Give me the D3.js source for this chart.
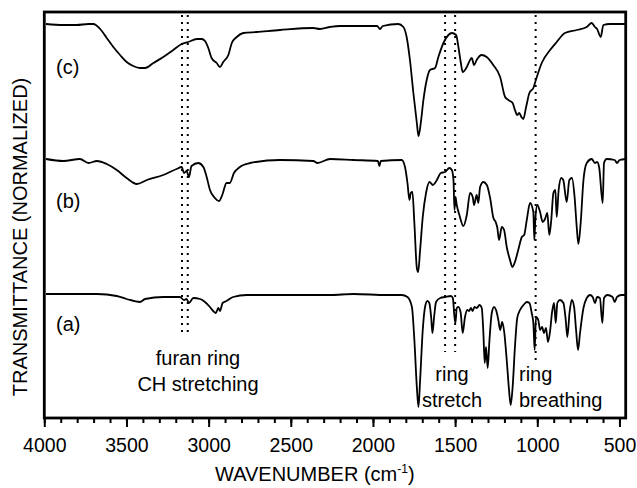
<!DOCTYPE html>
<html>
<head>
<meta charset="utf-8">
<script src="https://cdn.jsdelivr.net/npm/d3@7"></script>
<style>
  body { margin: 0; background: #fff; }
  text { font-family: "Liberation Sans", Arial, sans-serif; fill: #000; }
</style>
</head>
<body>
<div id="chart"></div>
<script>
// spectra: [wavenumber, transmittance (stacked, arbitrary units)]
var spectrumC = [[3990,3.94],[3885,3.93],[3803,3.93],[3731,3.94],[3701,3.94],[3660,3.89],[3620,3.80],[3580,3.71],[3539,3.63],[3499,3.56],[3459,3.52],[3418,3.50],[3387,3.50],[3336,3.55],[3276,3.61],[3215,3.68],[3164,3.74],[3124,3.76],[3072,3.79],[3042,3.79],[3022,3.77],[3002,3.70],[2982,3.60],[2951,3.55],[2931,3.51],[2911,3.56],[2880,3.63],[2859,3.75],[2829,3.81],[2789,3.85],[2708,3.86],[2566,3.88],[2363,3.90],[2323,3.89],[2261,3.91],[2200,3.92],[1975,3.92],[1957,3.89],[1940,3.92],[1846,3.94],[1815,3.91],[1795,3.81],[1775,3.58],[1754,3.25],[1733,2.95],[1723,2.82],[1709,2.95],[1693,3.18],[1673,3.38],[1653,3.48],[1622,3.50],[1602,3.61],[1571,3.75],[1541,3.83],[1520,3.85],[1494,3.83],[1480,3.71],[1466,3.56],[1454,3.46],[1429,3.51],[1409,3.58],[1399,3.60],[1385,3.53],[1369,3.58],[1339,3.63],[1308,3.61],[1268,3.53],[1226,3.41],[1196,3.21],[1176,3.18],[1150,3.15],[1136,3.08],[1122,3.03],[1110,3.05],[1097,3.01],[1085,2.99],[1068,3.11],[1048,3.25],[1024,3.30],[1003,3.41],[973,3.55],[922,3.68],[882,3.76],[832,3.85],[760,3.88],[699,3.91],[669,3.95],[649,3.91],[636,3.89],[614,3.81],[598,3.93],[558,3.94],[462,3.94]];

var spectrumB = [[3990,2.59],[3884,2.57],[3783,2.59],[3731,2.55],[3680,2.57],[3620,2.54],[3559,2.48],[3499,2.40],[3437,2.34],[3376,2.38],[3276,2.43],[3195,2.49],[3164,2.51],[3150,2.45],[3134,2.47],[3120,2.41],[3104,2.52],[3063,2.55],[3032,2.51],[3012,2.41],[2992,2.28],[2962,2.20],[2937,2.17],[2917,2.23],[2891,2.35],[2871,2.35],[2846,2.45],[2810,2.51],[2748,2.55],[2566,2.58],[2363,2.57],[2338,2.55],[2261,2.59],[2118,2.58],[1970,2.57],[1961,2.52],[1952,2.57],[1825,2.58],[1805,2.51],[1790,2.35],[1778,2.18],[1770,2.25],[1760,2.26],[1748,1.95],[1733,1.50],[1725,1.46],[1713,1.68],[1697,2.01],[1677,2.25],[1656,2.36],[1635,2.33],[1611,2.38],[1587,2.45],[1561,2.46],[1535,2.50],[1520,2.48],[1510,2.38],[1504,2.08],[1498,2.21],[1490,2.13],[1474,2.03],[1450,1.92],[1429,2.03],[1409,2.25],[1393,2.21],[1385,2.13],[1369,2.23],[1359,2.15],[1348,2.31],[1328,2.36],[1307,2.33],[1287,2.20],[1267,2.00],[1253,1.96],[1243,1.90],[1233,1.78],[1216,1.91],[1202,1.88],[1186,1.71],[1166,1.58],[1152,1.51],[1136,1.56],[1116,1.68],[1094,1.81],[1080,1.83],[1064,1.98],[1044,2.15],[1024,2.06],[1018,1.78],[1012,1.98],[1000,2.13],[983,2.06],[967,1.96],[953,1.99],[939,2.05],[927,1.83],[915,1.98],[902,2.25],[890,2.28],[882,2.01],[870,2.28],[854,2.40],[842,2.38],[821,2.16],[805,2.38],[789,2.40],[773,2.21],[760,1.91],[750,1.74],[736,1.95],[719,2.38],[699,2.55],[669,2.59],[649,2.55],[636,2.56],[623,2.50],[602,2.15],[594,2.55],[578,2.59],[529,2.58],[515,2.55],[499,2.58],[462,2.59]];

var spectrumA = [[3990,1.24],[3680,1.24],[3559,1.22],[3499,1.19],[3418,1.16],[3387,1.19],[3276,1.21],[3175,1.21],[3150,1.18],[3134,1.19],[3120,1.15],[3093,1.20],[3052,1.19],[3022,1.16],[2992,1.11],[2972,1.07],[2956,1.05],[2941,1.10],[2931,1.07],[2915,1.15],[2891,1.17],[2851,1.21],[2768,1.23],[2464,1.23],[2261,1.23],[2118,1.24],[1916,1.23],[1825,1.23],[1790,1.21],[1763,1.11],[1748,0.78],[1733,0.31],[1723,0.11],[1713,0.38],[1697,0.88],[1683,1.11],[1669,1.17],[1657,1.15],[1646,1.01],[1638,0.85],[1628,1.01],[1616,1.16],[1591,1.20],[1561,1.21],[1526,1.22],[1514,1.20],[1504,1.01],[1498,0.95],[1490,1.10],[1480,1.11],[1466,1.05],[1454,0.85],[1440,1.01],[1426,1.08],[1414,1.07],[1404,1.10],[1394,1.07],[1382,1.11],[1368,1.10],[1352,1.13],[1338,1.10],[1328,0.85],[1320,0.55],[1312,0.71],[1302,0.50],[1291,0.78],[1277,1.05],[1263,1.11],[1251,1.08],[1237,0.98],[1226,0.88],[1214,0.96],[1202,0.87],[1186,0.58],[1172,0.28],[1162,0.13],[1150,0.31],[1136,0.71],[1122,1.00],[1105,1.08],[1084,1.13],[1064,1.16],[1048,1.15],[1034,1.05],[1024,0.95],[1016,0.68],[1008,1.01],[994,0.98],[983,0.88],[971,0.91],[959,0.85],[947,0.90],[935,0.76],[922,0.87],[910,1.06],[898,1.15],[888,0.95],[878,1.15],[862,1.18],[841,1.15],[827,0.98],[817,0.81],[804,1.05],[790,1.18],[776,1.11],[764,0.88],[752,0.68],[740,0.85],[719,1.10],[699,1.20],[679,1.23],[663,1.21],[649,1.15],[636,1.21],[619,1.20],[604,0.95],[594,1.20],[574,1.23],[542,1.21],[529,1.16],[515,1.21],[489,1.23],[462,1.23]];

var seriesNames = ["(c)", "(b)", "(a)"];
var majorTicks = [4000, 3500, 3000, 2500, 2000, 1500, 1000, 500];
var minorTicks = d3.range(4000, 461, -100);
var markerLines = [3162, 3127, 1561, 1500, 1010];

var width = 637, height = 488;
var plotLeft = 44.3, plotRight = 625.7, plotTop = 12, plotBottom = 418;

var svg = d3.select("#chart").append("svg")
    .attr("width", width)
    .attr("height", height);

var x = d3.scaleLinear().domain([4000, 462]).range([plotLeft, plotRight]);
var y = d3.scaleLinear().domain([0, 4.06]).range([plotBottom, plotTop]);

// dotted guide lines (drawn first, under the spectra)
var markBottoms = [333, 333, 352, 352, 363];
svg.selectAll(".mark")
    .data(markerLines)
    .enter().append("line")
    .attr("x1", function (d) { return x(d); })
    .attr("x2", function (d) { return x(d); })
    .attr("y1", 15)
    .attr("y2", function (d, i) { return markBottoms[i]; })
    .style("stroke", "#000")
    .style("stroke-width", 2)
    .style("stroke-dasharray", "2,5");

var line = d3.line()
    .x(function (d) { return x(d[0]); })
    .y(function (d) { return y(d[1]); })
    .curve(d3.curveMonotoneX);

svg.selectAll(".spec")
    .data([spectrumC, spectrumB, spectrumA])
    .enter().append("path")
    .attr("class", "spec")
    .attr("d", line)
    .style("fill", "none")
    .style("stroke", "#000")
    .style("stroke-width", 1.8)
    .style("stroke-linejoin", "round");

// frame
svg.append("rect")
    .attr("x", plotLeft).attr("y", plotTop)
    .attr("width", plotRight - plotLeft).attr("height", plotBottom - plotTop)
    .style("fill", "none")
    .style("stroke", "#000")
    .style("stroke-width", 2.8);

// x axis: minor + major ticks
var minorAxis = svg.append("g")
    .attr("transform", "translate(0," + plotBottom + ")")
    .call(d3.axisBottom(x).tickValues(minorTicks).tickSize(5).tickFormat(""));
minorAxis.select(".domain").remove();
minorAxis.selectAll("line").style("stroke-width", 2);

var majorAxis = svg.append("g")
    .attr("transform", "translate(0," + plotBottom + ")")
    .call(d3.axisBottom(x).tickValues(majorTicks).tickSize(9).tickPadding(11)
        .tickFormat(d3.format("d")));
majorAxis.select(".domain").remove();
majorAxis.selectAll("line").style("stroke-width", 2);
majorAxis.selectAll("text")
    .style("font-family", "'Liberation Sans', Arial, sans-serif")
    .style("font-size", "19.5px");

// axis titles
var xt = svg.append("text")
    .attr("x", 215).attr("y", 481)
    .style("font-size", "20px");
xt.append("tspan").text("WAVENUMBER (cm");
xt.append("tspan").attr("dy", -8).style("font-size", "12px").text("-1");
xt.append("tspan").attr("dy", 8).text(")");

svg.append("text")
    .attr("transform", "translate(27,237) rotate(-90)")
    .attr("text-anchor", "middle")
    .style("font-size", "20px")
    .text("TRANSMITTANCE (NORMALIZED)");

// series labels
var labelBaselines = [74, 208, 331];
svg.selectAll(".lab")
    .data(seriesNames)
    .enter().append("text")
    .attr("x", 56)
    .attr("y", function (d, i) { return labelBaselines[i]; })
    .style("font-size", "20px")
    .text(function (d) { return d; });

// band annotations
var notes = [
    {lines: ["furan ring", "CH stretching"], x: 198, anchor: "middle", y: 365},
    {lines: ["ring", "stretch"], x: 452, anchor: "middle", y: 381},
    {lines: ["ring", "breathing"], x: 519, anchor: "start", y: 381}
];
notes.forEach(function (n) {
    var t = svg.append("text")
        .attr("text-anchor", n.anchor)
        .style("font-size", "20px");
    n.lines.forEach(function (s, i) {
        t.append("tspan").attr("x", n.x).attr("y", n.y + i * 26).text(s);
    });
});
</script>
</body>
</html>
